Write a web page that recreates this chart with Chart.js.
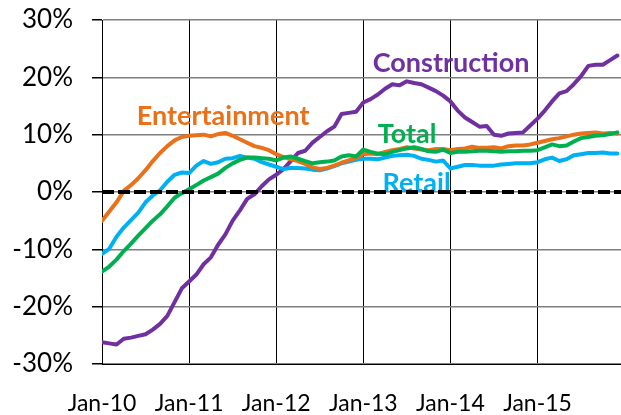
<!DOCTYPE html>
<html>
<head>
<meta charset="utf-8">
<script src="https://cdn.jsdelivr.net/npm/chart.js@4.4.1/dist/chart.umd.min.js"></script>
<style>
html,body{margin:0;padding:0;background:#fff;}
#wrap{width:621px;height:415px;}
</style>
</head>
<body>
<div id="wrap"><canvas id="c" width="621" height="415"></canvas></div>
<script>
// Monthly, Jan-10 .. Dec-15 (year-over-year % change)
const xTickLabels = ["Jan-10","Jan-11","Jan-12","Jan-13","Jan-14","Jan-15"];
const yTickValues = [-30,-20,-10,0,10,20,30];

const construction = [
 -26.2,-26.4,-26.6,-25.6,-25.4,-25.1,-24.8,-24.0,-23.0,-21.6,-19.2,-16.8,
 -15.6,-14.4,-12.6,-11.4,-9.2,-7.4,-5.0,-3.2,-1.2,-0.4,1.0,2.2,
 3.0,4.0,5.4,6.8,7.2,8.6,9.6,10.6,11.4,13.6,13.8,14.0,
 15.6,16.2,17.0,18.0,18.8,18.6,19.3,19.0,18.8,18.2,17.6,16.8,
 15.8,14.2,13.0,12.2,11.4,11.5,10.0,9.8,10.2,10.3,10.4,11.6,
 12.8,14.2,15.8,17.2,17.6,18.8,20.2,22.0,22.2,22.2,23.0,23.8
];
const entertainment = [
 -5.0,-3.4,-1.8,0.2,1.2,2.4,3.8,5.4,6.8,8.0,9.0,9.6,
 9.8,9.9,10.0,9.7,10.1,10.3,9.8,9.2,8.6,8.0,7.7,7.3,
 6.6,6.1,5.7,5.4,4.9,4.3,4.0,4.2,4.6,5.1,5.5,5.9,
 6.6,6.7,6.6,7.0,7.3,7.5,7.8,7.6,7.4,7.3,7.5,7.5,
 7.3,7.5,7.6,7.9,7.7,7.7,7.8,7.6,8.0,8.1,8.1,8.3,
 8.6,8.9,9.2,9.4,9.7,10.0,10.2,10.3,10.4,10.2,10.3,10.2
];
const total = [
 -13.9,-13.0,-11.8,-10.3,-9.0,-7.6,-6.3,-5.0,-3.9,-2.5,-1.0,-0.2,
 0.5,1.2,2.0,2.6,3.2,4.2,5.0,5.6,6.0,6.0,5.9,5.8,
 5.5,6.0,6.2,5.8,5.4,5.0,5.2,5.3,5.5,6.2,6.4,6.2,
 7.4,7.0,6.7,6.6,7.0,7.3,7.6,7.8,7.5,7.1,7.0,7.4,
 6.8,7.0,7.0,7.1,7.2,7.2,7.1,7.0,7.1,7.1,7.2,7.2,
 7.3,7.8,8.3,8.0,8.1,8.8,9.4,9.6,9.8,9.9,10.1,10.4
];
const retail = [
 -10.8,-9.9,-7.8,-6.2,-4.9,-3.6,-1.8,-0.6,0.3,1.8,3.0,3.4,
 3.3,4.6,5.4,4.9,5.2,5.8,5.9,6.3,6.0,5.8,5.2,4.8,
 4.4,4.0,4.2,4.2,4.1,3.9,3.8,4.1,4.5,5.0,5.3,5.6,
 5.8,5.8,5.7,6.0,6.3,6.4,6.5,6.3,5.8,5.6,5.3,5.5,
 4.1,4.4,4.7,4.7,4.6,4.6,4.6,4.8,4.9,5.0,5.0,5.0,
 5.2,5.7,6.0,5.4,5.7,6.4,6.6,6.8,6.8,6.9,6.7,6.7
];

const seriesNames = ["Total","Entertainment","Retail","Construction"];
const seriesColors = ["#00B050","#E8711A","#00B0F0","#7030A0"];
const seriesData = [total, entertainment, retail, construction];

// in-chart labels anchored in data coordinates (month index, percent)
const labelAnchors = [
  {text:"Construction", x:37.3, y:20.9, color:"#7030A0"},
  {text:"Entertainment", x:4.8, y:11.7, color:"#E8711A"},
  {text:"Total", x:38.0, y:8.55, color:"#00B050"},
  {text:"Retail", x:38.65, y:0.05, color:"#00B0F0"}
];

const FONT = "Lato, 'Open Sans', sans-serif";

const toXY = arr => arr.map((v,i)=>({x:i,y:v}));

const overlay = {
  id:'overlay',
  afterDatasetsDraw(chart){
    const {ctx, chartArea, scales:{x,y}} = chart;
    ctx.save();
    ctx.font = "bold 27px " + FONT;
    ctx.textAlign = 'left';
    ctx.textBaseline = 'alphabetic';
    labelAnchors.forEach(l=>{
      ctx.fillStyle = l.color;
      ctx.fillText(l.text, x.getPixelForValue(l.x), y.getPixelForValue(l.y));
    });
    const y0 = Math.round(y.getPixelForValue(0));
    ctx.strokeStyle = '#000';
    ctx.lineWidth = 4;
    ctx.setLineDash([12,4]);
    ctx.beginPath();
    ctx.moveTo(chartArea.left, y0);
    ctx.lineTo(chartArea.right, y0);
    ctx.stroke();
    ctx.restore();
  }
};

new Chart(document.getElementById('c'), {
  type:'line',
  data:{
    datasets: seriesNames.map((n,i)=>({
      label:n,
      data: toXY(seriesData[i]),
      borderColor: seriesColors[i],
      backgroundColor: seriesColors[i],
      borderWidth: 4,
      pointRadius: 0,
      tension: 0,
      borderJoinStyle:'round',
      borderCapStyle:'round',
      fill:false
    }))
  },
  options:{
    responsive:false,
    animation:false,
    devicePixelRatio:1,
    layout:{padding:{top:20,right:0,left:0,bottom:0}},
    plugins:{legend:{display:false}, tooltip:{enabled:false}},
    scales:{
      x:{
        type:'linear',
        min:0, max:71.5,
        afterFit(s){ s.height = 51; },
        afterBuildTicks(s){ s.ticks = xTickLabels.map((_,i)=>({value:i*12})); },
        ticks:{
          includeBounds:false,
          autoSkip:false,
          maxRotation:0,
          padding:26,
          color:'#000',
          font:{family:FONT, size:23},
          callback:(v)=> xTickLabels[Math.round(v/12)] || ''
        },
        grid:{color:'#000', lineWidth:1, drawTicks:false},
        border:{display:true, color:'#000', width:1}
      },
      y:{
        min:-30, max:30,
        afterFit(s){ s.width = 102; s.paddingTop = 0; s.paddingBottom = 0; },
        afterBuildTicks(s){ s.ticks = yTickValues.map(v=>({value:v})); },
        ticks:{
          padding:19,
          color:'#000',
          font:{family:FONT, size:26},
          callback:(v)=> v + '%'
        },
        grid:{color:'#7f7f7f', lineWidth:1.5, tickLength:10, tickColor:'#000'},
        border:{display:true, color:'#000', width:1}
      }
    }
  },
  plugins:[overlay]
});
</script>
</body>
</html>
